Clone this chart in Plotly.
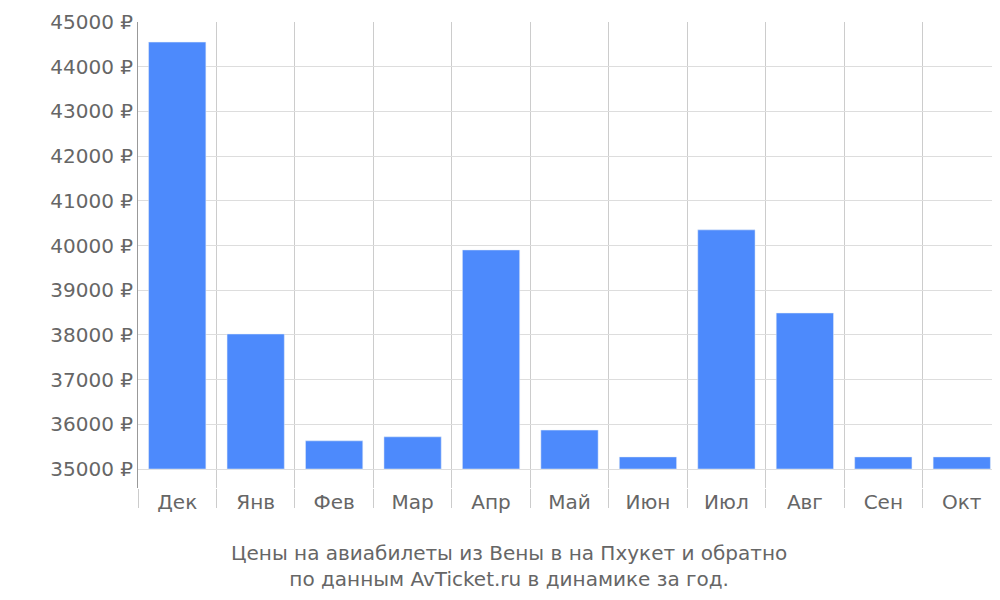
import plotly.graph_objects as go

months = ['Дек', 'Янв', 'Фев', 'Мар', 'Апр', 'Май', 'Июн', 'Июл', 'Авг', 'Сен', 'Окт']
prices = [44550, 38020, 35630, 35720, 39900, 35870, 35270, 40350, 38490, 35270, 35270]
base_price = 35000
tick_values = list(range(35000, 45001, 1000))
tick_labels = [f'{v} ₽' for v in tick_values]

fig = go.Figure(go.Bar(
    x=months,
    y=[p - base_price for p in prices],
    base=base_price,
    marker_color='#4d8afc',
))

fig.update_layout(
    width=1000, height=600,
    margin=dict(l=130, r=7, t=14, b=120, autoexpand=False),
    plot_bgcolor='white', paper_bgcolor='white',
    font=dict(family='DejaVu Sans', size=20, color='#666'),
    bargap=0.27,
    showlegend=False,
    xaxis=dict(
        tickson='boundaries', showgrid=True, gridcolor='#ccc',
        ticks='outside', ticklen=19, tickcolor='#ccc',
        showline=False, automargin=False,
        tickfont=dict(size=20, color='#666'),
    ),
    yaxis=dict(
        range=[34575, 45000], tickvals=tick_values, ticktext=tick_labels,
        showgrid=True, gridcolor='#ddd', automargin=False,
        showline=True, linecolor='#999', zeroline=False,
        tickfont=dict(size=20, color='#666'),
    ),
    annotations=[dict(
        text='Цены на авиабилеты из Вены в на Пхукет и обратно<br>по данным AvTicket.ru в динамике за год.',
        xref='paper', yref='paper', x=0.43, y=-0.11, yanchor='top',
        showarrow=False, font=dict(size=20, color='#666'),
    )],
)

fig.write_html('out.html')
